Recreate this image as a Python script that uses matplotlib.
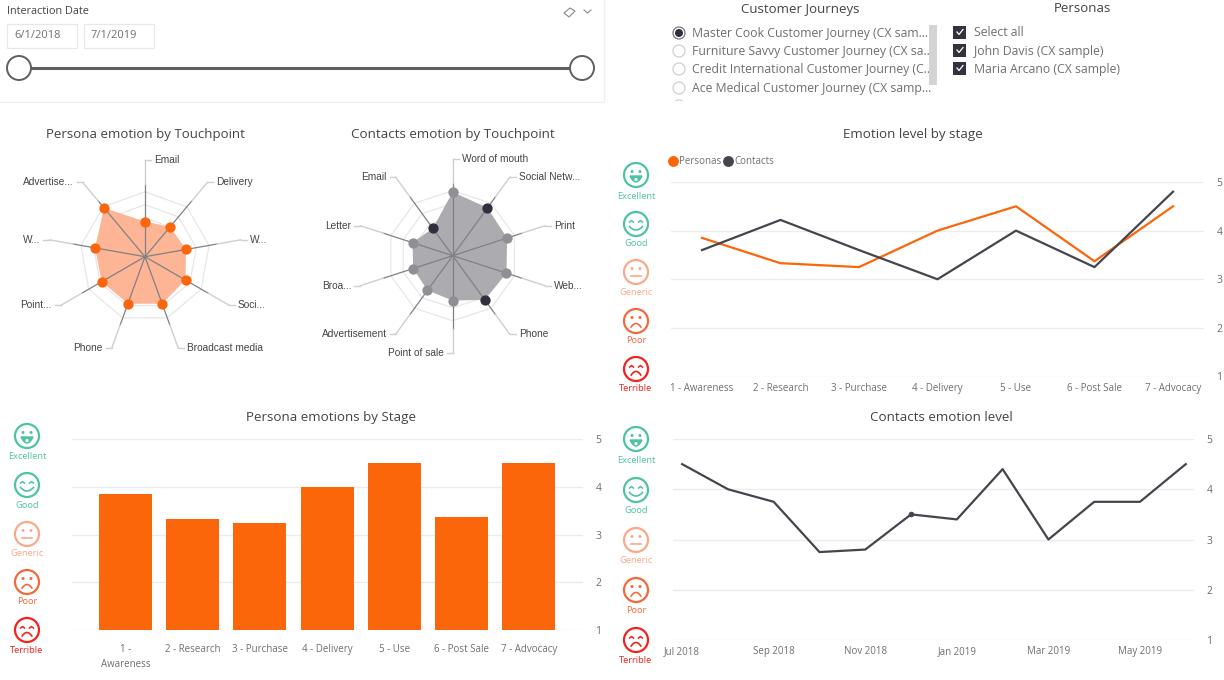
#!/usr/bin/env python3
"""Customer journey dashboard: sliders, radars, emotion lines and bars."""
import matplotlib
matplotlib.use("Agg")
import matplotlib.pyplot as plt
from matplotlib.lines import Line2D
from matplotlib.patches import Circle, Polygon, Rectangle
import numpy as np

W, H = 1224, 680
ORANGE, DARK = "#fb660b", "#45454d"
TXT, MUTED, GRID = "#444444", "#6f6f6f", "#ececec"
SEGOE, ARIAL = "Open Sans", "Liberation Sans"

# ---------- data ----------
stages = ["1 - Awareness", "2 - Research", "3 - Purchase", "4 - Delivery",
          "5 - Use", "6 - Post Sale", "7 - Advocacy"]
persona_stage = [3.85, 3.33, 3.25, 4.0, 4.5, 3.37, 4.5]
contact_stage = [3.6, 4.22, 3.6, 3.0, 4.0, 3.25, 4.8]

bar_labels = ["1 -\nAwareness", "2 - Research", "3 - Purchase", "4 - Delivery",
              "5 - Use", "6 - Post Sale", "7 - Advocacy"]

months = ["Jul 2018", "Aug 2018", "Sep 2018", "Oct 2018", "Nov 2018", "Dec 2018",
          "Jan 2019", "Feb 2019", "Mar 2019", "Apr 2019", "May 2019", "Jun 2019"]
contact_month = [4.5, 4.0, 3.75, 2.75, 2.8, 3.5, 3.4, 4.4, 3.0, 3.75, 3.75, 4.5]

persona_points = ["Email", "Delivery", "W...", "Soci...", "Broadcast media",
                  "Phone", "Point...", "W...", "Advertise..."]
persona_radar = [2.7, 3.0, 3.2, 3.6, 3.85, 3.85, 3.85, 3.9, 4.9]

contact_points = ["Word of mouth", "Social Netw...", "Print", "Web...", "Phone",
                  "Point of sale", "Advertisement", "Broa...", "Letter", "Email"]
contact_radar = [4.9, 4.55, 4.4, 4.35, 4.2, 3.45, 3.3, 3.2, 3.25, 2.6]
contact_strong = [False, True, False, False, True, False, False, False, False, True]

journeys = ["Master Cook Customer Journey (CX sam...",
            "Furniture Savvy Customer Journey (CX sa...",
            "Credit International Customer Journey (C...",
            "Ace Medical Customer Journey (CX samp..."]
personas = ["Select all", "John Davis (CX sample)", "Maria Arcano (CX sample)"]
moods = ["Excellent", "Good", "Generic", "Poor", "Terrible"]
mood_colors = ["#4fc3a1", "#4fc3a1", "#f9a98a", "#f26a3c", "#f2231c"]
emotion_ticks = [1, 2, 3, 4, 5]

fig = plt.figure(figsize=(W / 100, H / 100), dpi=100, facecolor="white")
bg = fig.add_axes([0, 0, 1, 1])
bg.set_xlim(0, W); bg.set_ylim(H, 0); bg.axis("off")


def px_axes(x0, y0, x1, y1, **kw):
    # axes box given in image pixels, y0 is the top edge
    return fig.add_axes([x0 / W, 1 - y1 / H, (x1 - x0) / W, (y1 - y0) / H], **kw)


def label(x, y, s, size=9, color=TXT, ha="left", font=SEGOE):
    bg.text(x, y, s, fontsize=size, color=color, ha=ha, va="center", family=font)


def style_axes(ax, pad, xpad=4.5):
    ax.set_facecolor("none")
    for sp in ax.spines.values():
        sp.set_visible(False)
    ax.set_ylim(1, 5)
    ax.set_yticks(emotion_ticks)
    ax.yaxis.tick_right()
    ax.tick_params(axis="y", length=0, pad=pad, labelsize=7.5, labelcolor=MUTED)
    ax.tick_params(axis="x", length=0, pad=xpad, labelsize=7, labelcolor=MUTED)
    ax.grid(axis="y", color=GRID, lw=1)
    ax.set_axisbelow(True)
    for t in ax.get_xticklabels() + ax.get_yticklabels():
        t.set_family(SEGOE)


def face(cx, cy, name, color, text_y):
    bg.add_patch(Circle((cx, cy), 12, fc="white", ec=color, lw=1.6))
    t = np.linspace(-1, 1, 30)
    if name in ("Good", "Terrible"):
        for s in (-1, 1):
            bg.plot(cx + s * 4.5 + 2 * t, cy - 3.5 + 1.6 * np.abs(t), color=color, lw=1.1)
    else:
        for s in (-1, 1):
            bg.add_patch(Circle((cx + s * 4, cy - 3.5), 1.5, fc=color, ec="none"))
    if name == "Excellent":
        xs = cx + 6 * t
        bg.add_patch(Polygon(np.column_stack([xs, cy + 1 + 6 * (1 - t ** 2)]), fc=color, ec=color))
        bg.add_patch(Circle((cx, cy + 4.6), 1.6, fc="white", ec="none"))
    elif name == "Good":
        bg.plot(cx + 6.5 * t, cy + 2.5 + 3.5 * (1 - t ** 2), color=color, lw=1.2)
    elif name == "Generic":
        bg.plot(cx + 5 * t, cy + 4 + 0 * t, color=color, lw=1.2)
    else:
        bg.plot(cx + 4.8 * t, cy + 6 - 3.5 * (1 - t ** 2), color=color, lw=1.2)
    label(cx, text_y + 0.8, name, size=6.7, color=color, ha="center")


def mood_column(cx, face_ys, text_ys):
    for name, color, fy, ty in zip(moods, mood_colors, face_ys, text_ys):
        face(cx, fy, name, color, ty)


def radar(cx, cy, points, vals, color, fill, strong=None):
    n = len(points)
    theta = np.arange(n) * 2 * np.pi / n
    ax = px_axes(cx - 65, cy - 65, cx + 65, cy + 65, projection="polar")
    ax.set_facecolor("none")
    ax.set_theta_zero_location("N"); ax.set_theta_direction(-1)
    ax.set_ylim(0, 5)
    ax.grid(False); ax.set_xticks([]); ax.set_yticks([])
    ax.spines["polar"].set_visible(False)
    ring_t = np.append(theta, 0)
    for r in emotion_ticks:
        ax.plot(ring_t, [r] * (n + 1), color="#e6e8e6", lw=0.9, clip_on=False, zorder=1)
    ax.fill(theta, vals, color=fill, lw=0, zorder=2)
    for i, t in enumerate(theta):
        ax.plot([t, t], [0, 5.6], color="#808086", lw=0.9, clip_on=False, zorder=3)
        ax.plot([t, t], [5.6, 97 / 13], color="#cfcfcf", lw=1, clip_on=False, zorder=3)
        ex, ey = cx + 97 * np.sin(t), cy - 97 * np.cos(t)
        right = t < np.pi - 0.01
        sign = 1 if right else -1
        bg.plot([ex, ex + sign * 6], [ey, ey], color="#cfcfcf", lw=1)
        label(ex + sign * 9, ey, points[i], size=7.3, ha="left" if right else "right", font=ARIAL)
    for i, (t, v) in enumerate(zip(theta, vals)):
        c = color if strong is None or strong[i] else "#8f8f94"
        ax.plot([t], [v], "o", color=c, ms=7.4, mew=0, clip_on=False, zorder=4)


# ---------- slicers ----------
bg.plot([604, 604, 0], [0, 102, 102], color="#f0f0f0", lw=1)
label(7, 11, "Interaction Date", size=7.8)
for x0, s in zip((7, 84), ("6/1/2018", "7/1/2019")):
    bg.add_patch(Rectangle((x0, 24), 70, 24, fc="white", ec="#e8e8e8", lw=0.9))
    label(x0 + 7, 36, s, size=8, color=MUTED)
bg.plot([19, 582], [68, 68], color="#5f5f5f", lw=2.2)
for x in (19, 582):
    bg.add_patch(Circle((x, 68), 12, fc="white", ec="#5f5f5f", lw=1.4, zorder=3))
bg.add_patch(Polygon([[564, 13], [570, 8], [575, 11], [569, 17]], fc="white", ec="#888888", lw=0.8))
bg.plot([584, 587.5, 591], [10, 13, 10], color="#888888", lw=0.8)

label(800, 9, "Customer Journeys", size=9.5, ha="center")
label(1082, 9, "Personas", size=9.5, ha="center")
for i, s in enumerate(journeys):
    y = [33, 51, 69, 88][i]
    bg.add_patch(Circle((679, y), 6, fc="white", ec="#777777" if i == 0 else "#d0d0d0", lw=0.9))
    if i == 0:
        bg.add_patch(Circle((679, y), 4, fc="#2f2f3d", ec="none"))
    label(692, y + 0.5, s, size=8.8, color=MUTED)
bg.add_patch(Circle((679, 106), 6, fc="white", ec="#d0d0d0", lw=0.9))
bg.add_patch(Rectangle((660, 101), 280, 12, fc="white", ec="none", zorder=2))
bg.add_patch(Rectangle((929, 25), 8, 60, fc="#d4d4d4", ec="none", zorder=3))
for s, y in zip(personas, (32, 50, 68)):
    bg.add_patch(Rectangle((953, y - 6.5), 13, 13, fc="#333340", ec="none"))
    bg.plot([957, 959, 963], [y, y + 2.5, y - 2.5], color="white", lw=0.9)
    label(974, y + 1, s, size=8.8, color=MUTED)

# ---------- radars ----------
label(145, 134.5, "Persona emotion by Touchpoint", size=9.5, ha="center")
radar(145, 256.7, persona_points, persona_radar, ORANGE, "#fdb595")
label(453, 134.5, "Contacts emotion by Touchpoint", size=9.6, ha="center")
radar(452.7, 255.7, contact_points, contact_radar, "#2f2f3d", "#acabb0", contact_strong)

# ---------- emotion level by stage ----------
label(913, 134.5, "Emotion level by stage", size=9.6, ha="center")
mood_column(636, [175, 224, 272, 321, 369], [196, 243, 292, 340, 388])
ax = px_axes(671, 182, 1204, 376.5)
xs = np.arange(len(stages))
ax.set_xticks(xs); ax.set_xticklabels(stages)
style_axes(ax, 9)
ax.set_xlim(-0.395, 6.395)
ax.plot(xs, persona_stage, color=ORANGE, lw=1.6, clip_on=False)
ax.plot(xs, contact_stage, color=DARK, lw=1.6, clip_on=False)
handles = [Line2D([], [], ls="", marker="o", ms=6.8, color=ORANGE, label="Personas"),
           Line2D([], [], ls="", marker="o", ms=6.8, color=DARK, label="Contacts")]
ax.legend(handles=handles, ncol=2, frameon=False, loc="lower left", bbox_to_anchor=(-0.03, 1.0),
          labelcolor=MUTED, handlelength=0.7, handletextpad=0.3, columnspacing=0.35,
          borderpad=0, borderaxespad=1.5, prop={"family": SEGOE, "size": 7})

# ---------- persona bars ----------
label(331, 417.5, "Persona emotions by Stage", size=9.6, ha="center")
mood_column(27, [436, 485, 534, 582, 630], [456, 505, 553, 601, 650])
ax = px_axes(72, 439.3, 583, 630)
xs = np.arange(len(bar_labels))
ax.set_xticks(xs); ax.set_xticklabels(bar_labels, linespacing=1.55)
style_axes(ax, 9, xpad=10)
ax.set_xlim(-0.796, 6.808)
ax.bar(xs, persona_stage, width=0.79, color=ORANGE)

# ---------- contacts by month ----------
label(941, 417.5, "Contacts emotion level", size=9.6, ha="center")
mood_column(636, [439, 490, 540, 590, 640], [460, 510, 560, 610, 660])
ax = px_axes(673, 439, 1194, 640)
xs = np.arange(len(months))
ax.set_xticks(xs[::2]); ax.set_xticklabels(months[::2])
style_axes(ax, 9)
ax.set_xlim(-0.2, 11.18)
ax.plot(xs, contact_month, color=DARK, lw=1.6, clip_on=False)
ax.plot(xs[5], contact_month[5], "o", color=DARK, ms=4, mew=0)

fig.savefig("out.png", dpi=100)
